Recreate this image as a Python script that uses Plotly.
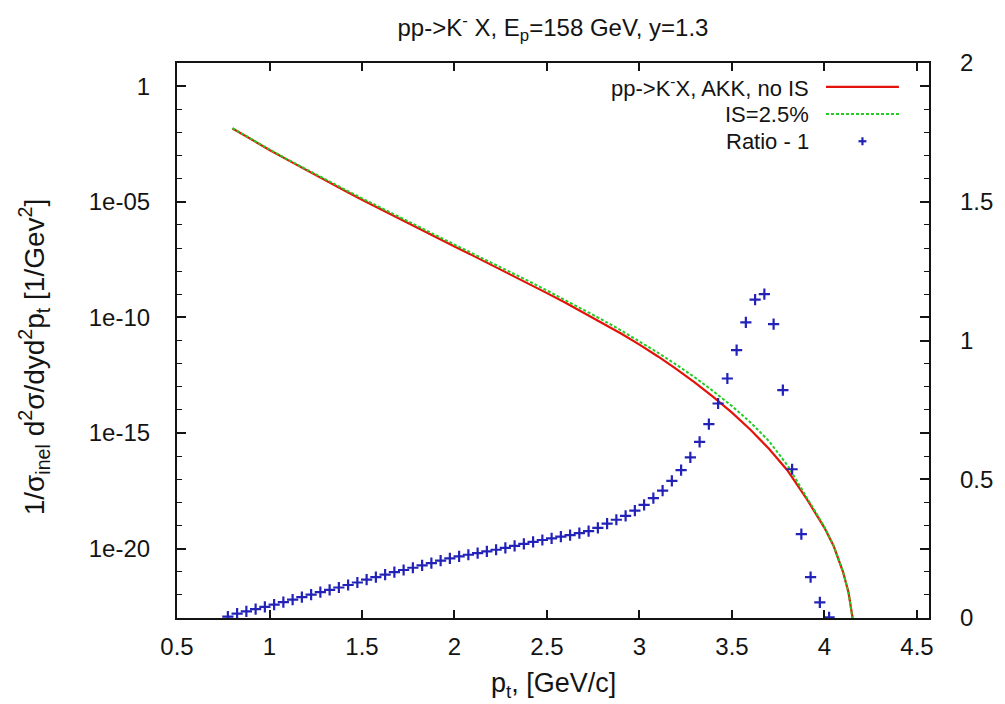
import plotly.graph_objects as go

# transverse momentum grid for the invariant cross sections
pt_curve = [0.8, 0.9, 1.0, 1.1, 1.2, 1.3, 1.4, 1.5, 1.6, 1.7, 1.8, 1.9, 2.0,
            2.1, 2.2, 2.3, 2.4, 2.5, 2.6, 2.7, 2.8, 2.9, 3.0, 3.1, 3.2, 3.3,
            3.4, 3.5, 3.6, 3.7, 3.8, 3.9, 4.0, 4.05, 4.1, 4.13, 4.15, 4.16]

# pp -> K- X, AKK fragmentation, no intrinsic smearing
xsec_no_is = [1.48e-02, 5.01e-03, 1.74e-03, 6.31e-04, 2.29e-04, 8.51e-05,
              3.24e-05, 1.23e-05, 4.79e-06, 1.86e-06, 7.41e-07, 2.95e-07,
              1.17e-07, 4.68e-08, 1.86e-08, 7.41e-09, 2.88e-09, 1.12e-09,
              4.27e-10, 1.58e-10, 5.75e-11, 2.00e-11, 6.61e-12, 2.04e-12,
              5.75e-13, 1.51e-13, 3.55e-14, 7.59e-15, 1.38e-15, 2.09e-16,
              2.40e-17, 1.58e-18, 7.94e-20, 1.26e-20, 1.00e-21, 1.26e-22,
              1.26e-23, 3.16e-24]

# same with IS = 2.5 %
xsec_is = [1.51e-02, 5.13e-03, 1.82e-03, 6.61e-04, 2.45e-04, 9.33e-05,
           3.63e-05, 1.41e-05, 5.50e-06, 2.19e-06, 8.71e-07, 3.55e-07,
           1.41e-07, 5.75e-08, 2.34e-08, 9.33e-09, 3.72e-09, 1.45e-09,
           5.62e-10, 2.09e-10, 7.76e-11, 2.75e-11, 9.12e-12, 2.95e-12,
           8.91e-13, 2.51e-13, 6.31e-14, 1.45e-14, 2.88e-15, 4.47e-16,
           3.98e-17, 1.95e-18, 8.71e-20, 1.32e-20, 1.02e-21, 1.26e-22,
           1.26e-23, 3.16e-24]

# ratio IS / no IS minus one (right axis)
pt_ratio = [0.775, 0.825, 0.875, 0.925, 0.975, 1.025, 1.075, 1.125, 1.175,
            1.225, 1.275, 1.325, 1.375, 1.425, 1.475, 1.525, 1.575, 1.625,
            1.675, 1.725, 1.775, 1.825, 1.875, 1.925, 1.975, 2.025, 2.075,
            2.125, 2.175, 2.225, 2.275, 2.325, 2.375, 2.425, 2.475, 2.525,
            2.575, 2.625, 2.675, 2.725, 2.775, 2.825, 2.875, 2.925, 2.975,
            3.025, 3.075, 3.125, 3.175, 3.225, 3.275, 3.325, 3.375, 3.425,
            3.475, 3.525, 3.575, 3.625, 3.675, 3.725, 3.775, 3.825, 3.875,
            3.925, 3.975, 4.025]
ratio_minus_one = [0.005, 0.016, 0.024, 0.032, 0.040, 0.048, 0.057, 0.066,
                   0.075, 0.084, 0.093, 0.101, 0.110, 0.119, 0.128, 0.138,
                   0.147, 0.156, 0.165, 0.173, 0.181, 0.190, 0.198, 0.207,
                   0.215, 0.222, 0.228, 0.234, 0.240, 0.246, 0.253, 0.260,
                   0.267, 0.274, 0.281, 0.287, 0.293, 0.299, 0.306, 0.313,
                   0.325, 0.340, 0.354, 0.368, 0.387, 0.408, 0.432, 0.459,
                   0.494, 0.533, 0.579, 0.635, 0.699, 0.773, 0.863, 0.965,
                   1.065, 1.147, 1.167, 1.059, 0.821, 0.536, 0.302, 0.147,
                   0.056, 0.002]

x_ticks = [0.5, 1, 1.5, 2, 2.5, 3, 3.5, 4, 4.5]
y_major = [1, 1e-05, 1e-10, 1e-15, 1e-20]
y_major_text = ["1", "1e-05", "1e-10", "1e-15", "1e-20"]
y_decades = [10.0 ** (-k) for k in range(0, 24)]
y2_ticks = [0, 0.5, 1, 1.5, 2]

FONT = "Liberation Sans, Arial, sans-serif"
INK = "#141414"
RED = "#e3120b"
GREEN = "#22cc22"
BLUE = "#2222b8"

LEGEND_LABELS = ["pp->K<sup>-</sup>X, AKK, no IS", "IS=2.5%", "Ratio - 1"]

fig = go.Figure()

fig.add_trace(go.Scatter(x=pt_curve, y=xsec_no_is, mode="lines",
                         line=dict(color=RED, width=2.2),
                         name=LEGEND_LABELS[0]))
fig.add_trace(go.Scatter(x=pt_curve, y=xsec_is, mode="lines",
                         line=dict(color=GREEN, width=2, dash="3px,2px"),
                         name=LEGEND_LABELS[1]))
fig.add_trace(go.Scatter(x=pt_ratio, y=ratio_minus_one, mode="markers",
                         yaxis="y2",
                         marker=dict(symbol="cross-thin", size=8,
                                     line=dict(color=BLUE, width=2.2)),
                         name=LEGEND_LABELS[2]))

# key in the upper right corner: label on the left, sample on the right
key_rows = [0.957, 0.908, 0.859]
key_text_x = 0.842
key_line = (0.863, 0.960)
for label, yk in zip(LEGEND_LABELS, key_rows):
    fig.add_annotation(x=key_text_x, y=yk, xref="paper", yref="paper",
                       text=label, showarrow=False, xanchor="right",
                       yanchor="middle", borderpad=0,
                       font=dict(family=FONT, size=22, color=INK))
fig.add_shape(type="line", xref="paper", yref="paper", x0=key_line[0],
              x1=key_line[1], y0=key_rows[0], y1=key_rows[0],
              line=dict(color=RED, width=2.2))
fig.add_shape(type="line", xref="paper", yref="paper", x0=key_line[0],
              x1=key_line[1], y0=key_rows[1], y1=key_rows[1],
              line=dict(color=GREEN, width=2, dash="3px,2px"))
key_mx = (key_line[0] + key_line[1]) / 2
half_w, half_h = 4 / 760, 4 / 555
fig.add_shape(type="line", xref="paper", yref="paper",
              x0=key_mx - half_w, x1=key_mx + half_w, y0=key_rows[2], y1=key_rows[2],
              line=dict(color=BLUE, width=2.2))
fig.add_shape(type="line", xref="paper", yref="paper",
              x0=key_mx, x1=key_mx, y0=key_rows[2] - half_h, y1=key_rows[2] + half_h,
              line=dict(color=BLUE, width=2.2))

# axis titles
fig.add_annotation(x=-0.19, y=0.47, xref="paper", yref="paper", textangle=-90,
                   text="1/σ<sub>inel</sub> d<sup>2</sup>σ/dyd<sup>2</sup>p<sub>t</sub> [1/Gev<sup>2</sup>]",
                   showarrow=False, xanchor="center", yanchor="middle",
                   font=dict(family=FONT, size=28, color=INK))
fig.add_annotation(x=0.5, y=-0.12, xref="paper", yref="paper",
                   text="p<sub>t</sub>, [GeV/c]", showarrow=False,
                   xanchor="center", yanchor="middle",
                   font=dict(family=FONT, size=27, color=INK))

axis_common = dict(showline=True, linecolor=INK, linewidth=2.2,
                   showgrid=False, zeroline=False, ticks="inside",
                   tickcolor=INK, tickwidth=1.5,
                   tickfont=dict(family=FONT, size=24, color=INK))

fig.update_layout(
    width=1005, height=704,
    margin=dict(l=177, r=68, t=63, b=86),
    paper_bgcolor="white", plot_bgcolor="white",
    showlegend=False,
    title=dict(text="pp->K<sup>-</sup> X, E<sub>p</sub>=158 GeV, y=1.3",
               x=0.5, xref="paper", y=1 - 28 / 704, yref="container",
               xanchor="center", yanchor="middle",
               font=dict(family=FONT, size=24, color=INK)),
    xaxis=dict(range=[0.5, 4.565], tickvals=x_ticks, ticklen=8,
               mirror="ticks", ticklabelstandoff=6, **axis_common),
    yaxis=dict(type="log", range=[-23, 1], tickvals=y_major,
               ticktext=y_major_text, ticklen=9, mirror="ticks",
               ticklabelstandoff=20,
               minor=dict(tickvals=y_decades, ticks="inside", ticklen=5,
                          tickcolor=INK, tickwidth=1.3),
               **axis_common),
    yaxis2=dict(overlaying="y", side="right", range=[0, 2],
                tickvals=y2_ticks, ticklen=9, ticklabelstandoff=24,
                **axis_common),
)

fig.write_html("out.html")
